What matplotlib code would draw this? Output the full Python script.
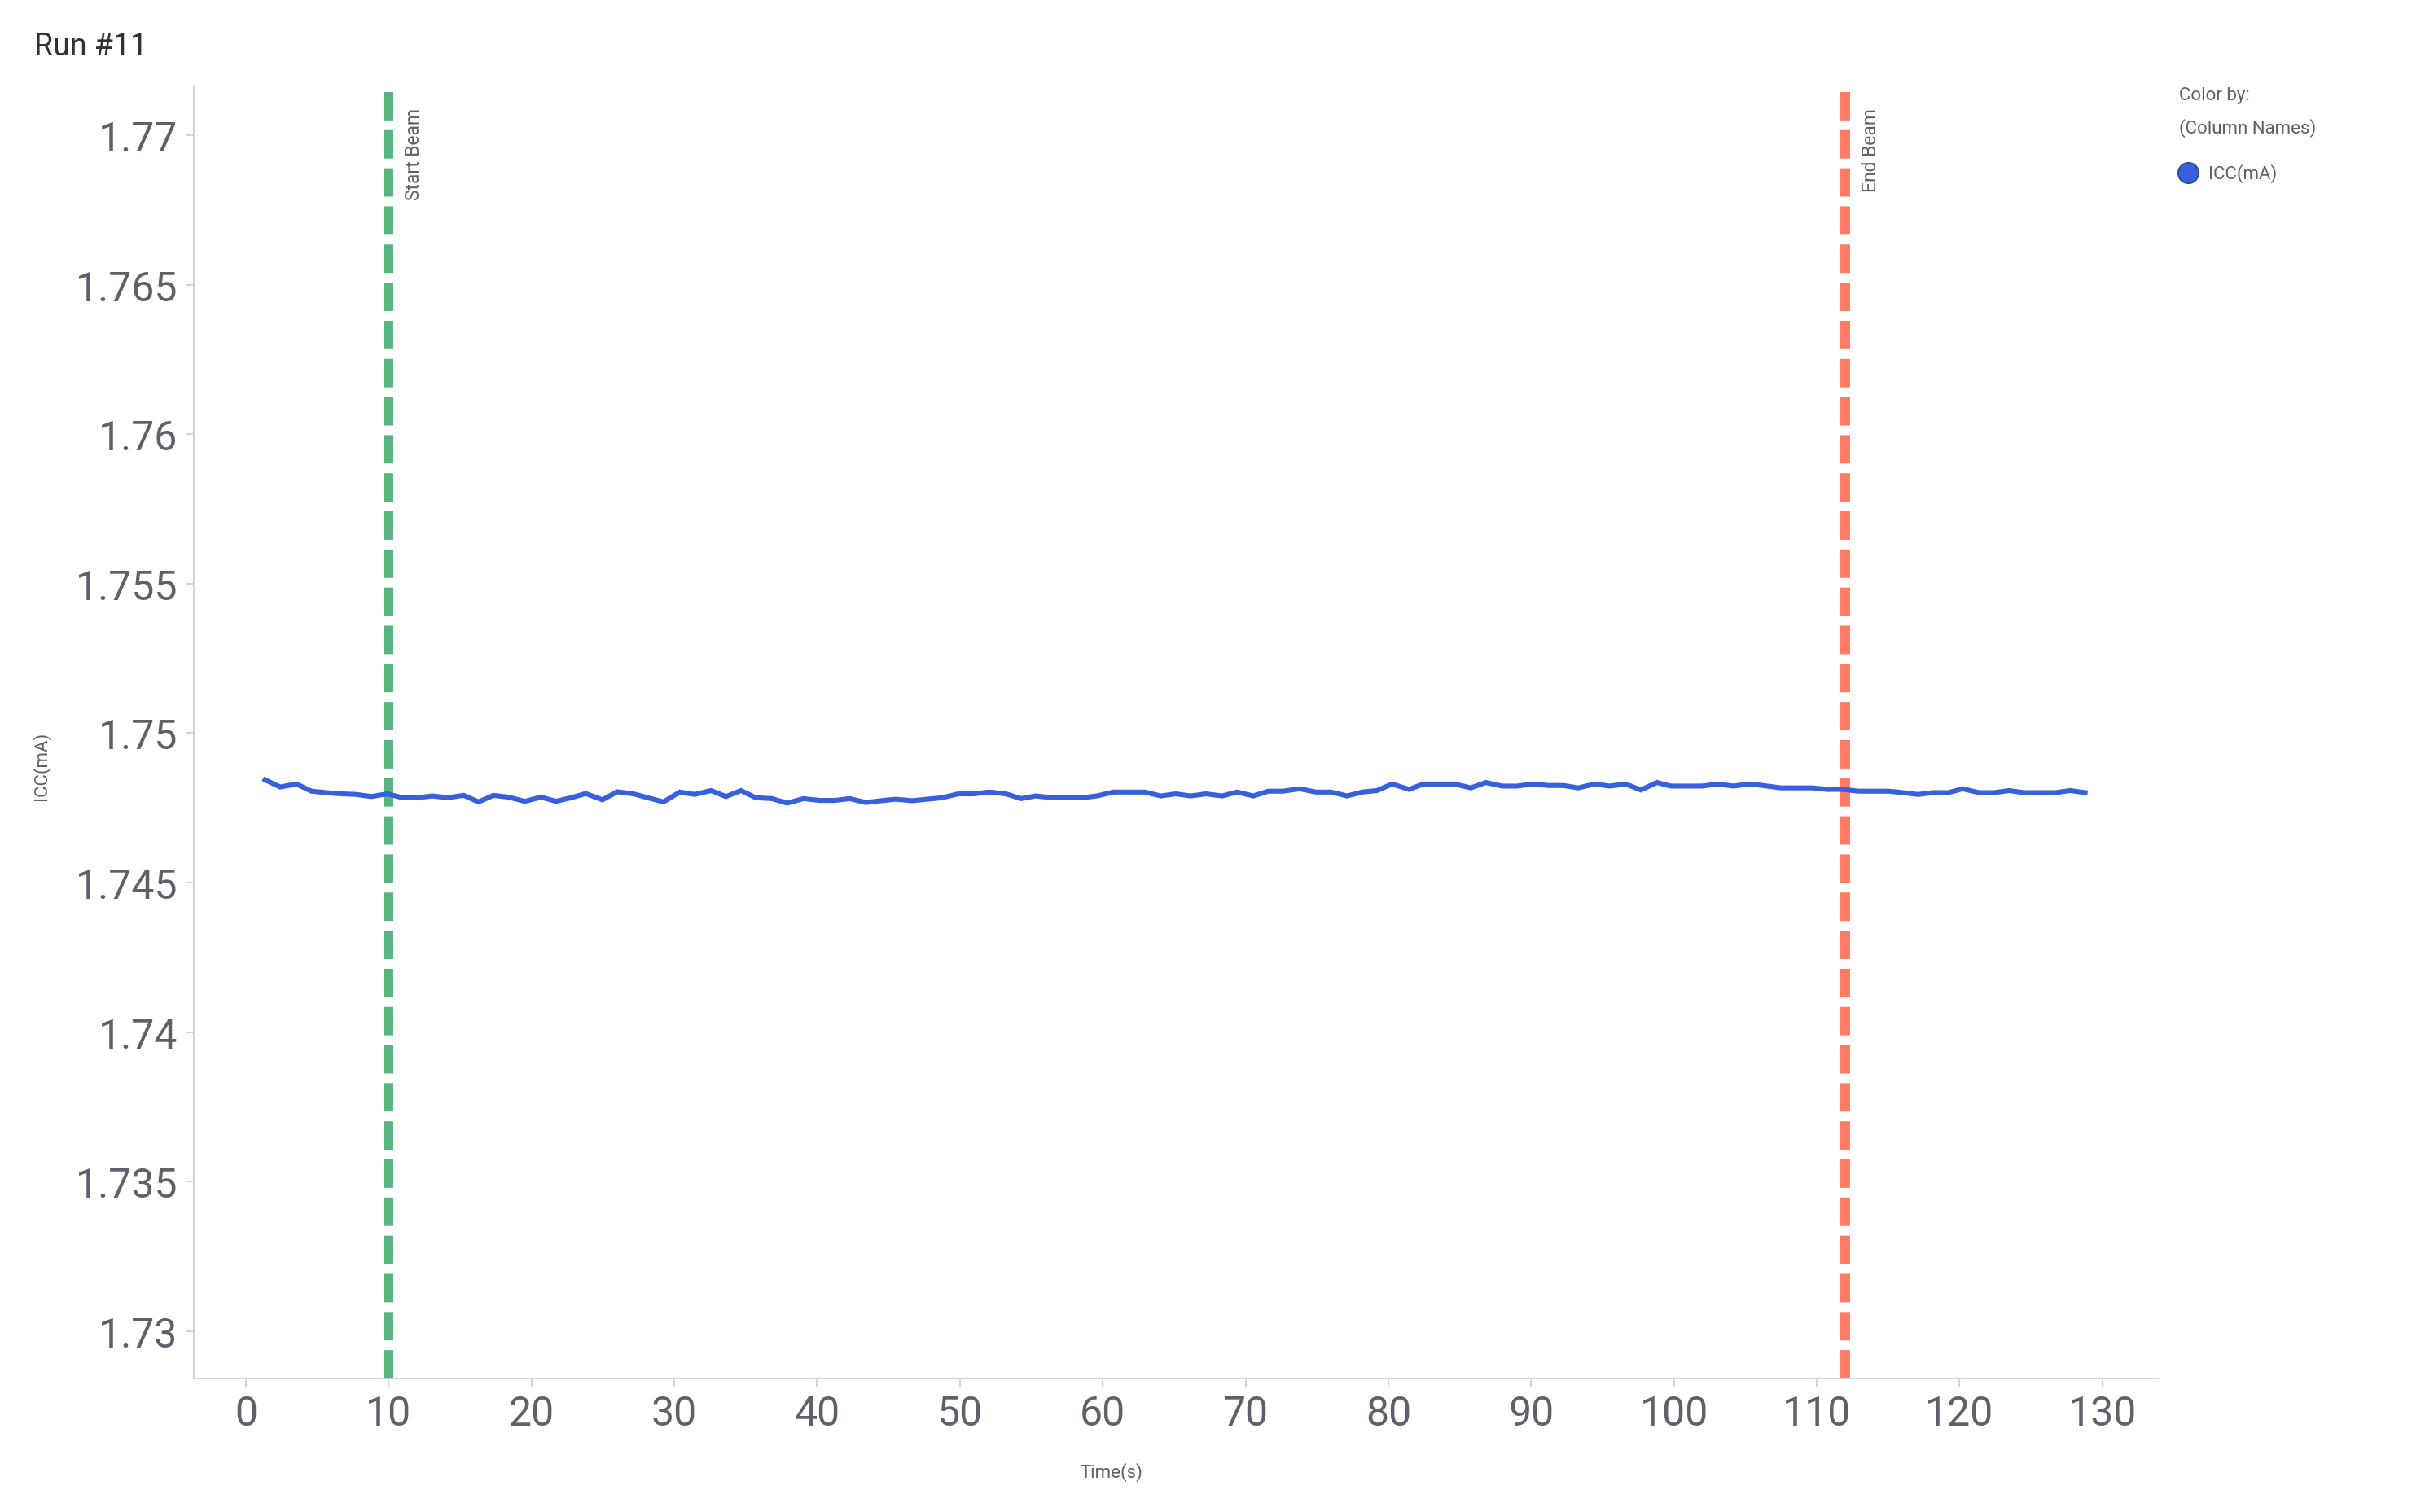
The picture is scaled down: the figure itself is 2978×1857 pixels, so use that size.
import numpy as np
import matplotlib
matplotlib.use("Agg")
import matplotlib.pyplot as plt
from matplotlib.ticker import FuncFormatter, MultipleLocator

plt.rcParams["font.family"] = ["Roboto", "DejaVu Sans"]

# ICC(mA) readings vs time (s)
time_s = [1.35, 2.40, 3.54, 4.59, 5.63, 6.68, 7.73, 8.78, 9.92, 10.96,
          12.01, 13.06, 14.11, 15.25, 16.29, 17.34, 18.39, 19.53, 20.67, 21.72,
          22.77, 23.81, 24.96, 26.00, 27.14, 29.24, 30.38, 31.43, 32.57, 33.62,
          34.67, 35.71, 36.85, 37.90, 39.04, 40.19, 41.23, 42.28, 43.42, 44.47,
          45.52, 46.66, 47.70, 48.75, 49.89, 50.94, 52.08, 53.23, 54.27, 55.32,
          56.46, 57.51, 58.56, 59.60, 60.75, 61.89, 62.94, 64.08, 65.12, 66.17,
          67.22, 68.36, 69.41, 70.55, 71.60, 72.64, 73.79, 74.93, 75.98, 77.12,
          78.17, 79.21, 80.26, 81.46, 82.45, 83.60, 84.64, 85.78, 86.83, 87.97,
          89.02, 90.06, 91.21, 92.25, 93.30, 94.44, 95.49, 96.63, 97.68, 98.82,
          99.77, 100.91, 101.96, 103.10, 104.15, 105.29, 106.05, 107.48, 108.53, 109.67,
          110.72, 111.76, 112.91, 113.95, 115.00, 116.05, 117.09, 118.14, 119.19, 120.23,
          121.37, 122.42, 123.47, 124.51, 125.65, 126.70, 127.75, 128.80]
icc_ma = [1.74844, 1.74820, 1.74830, 1.74806, 1.74801, 1.74797, 1.74795, 1.74788, 1.74797, 1.74784,
          1.74784, 1.74790, 1.74784, 1.74792, 1.74770, 1.74792, 1.74786, 1.74772, 1.74786, 1.74772,
          1.74784, 1.74798, 1.74777, 1.74804, 1.74797, 1.74770, 1.74803, 1.74795, 1.74808, 1.74788,
          1.74808, 1.74784, 1.74781, 1.74766, 1.74781, 1.74775, 1.74775, 1.74781, 1.74768, 1.74774,
          1.74779, 1.74774, 1.74779, 1.74784, 1.74797, 1.74797, 1.74803, 1.74797, 1.74781, 1.74790,
          1.74784, 1.74784, 1.74784, 1.74790, 1.74803, 1.74803, 1.74803, 1.74790, 1.74797, 1.74790,
          1.74797, 1.74790, 1.74803, 1.74790, 1.74806, 1.74806, 1.74814, 1.74803, 1.74803, 1.74790,
          1.74803, 1.74808, 1.74830, 1.74812, 1.74830, 1.74830, 1.74830, 1.74817, 1.74835, 1.74823,
          1.74823, 1.74830, 1.74825, 1.74825, 1.74817, 1.74830, 1.74823, 1.74830, 1.74810, 1.74835,
          1.74823, 1.74823, 1.74823, 1.74830, 1.74823, 1.74830, 1.74826, 1.74817, 1.74817, 1.74817,
          1.74812, 1.74812, 1.74806, 1.74806, 1.74806, 1.74801, 1.74795, 1.74801, 1.74801, 1.74814,
          1.74801, 1.74801, 1.74808, 1.74801, 1.74801, 1.74801, 1.74808, 1.74801]

beam_times = [10, 112]
beam_labels = ["Start Beam", "End Beam"]
beam_colors = ["#58b57f", "#fd7a65"]

x_ticks = list(range(0, 131, 10))
line_color = "#3860dd"
axis_grey = "#d3d5de"
text_grey = "#5f6168"

fig = plt.figure(figsize=(29.78, 18.58), dpi=100)
ax = fig.add_axes([0.0799, 0.0883, 0.810, 0.8536])

ax.plot(time_s, icc_ma, color=line_color, lw=4.4, solid_joinstyle="miter", zorder=3)

for t, lab, c in zip(beam_times, beam_labels, beam_colors):
    ax.axvline(t, color=c, lw=8.6, dashes=(2.92, 1.0), zorder=2)
    ax.annotate(lab, xy=(t, 1), xycoords=("data", "axes fraction"),
                xytext=(14, -18), textcoords="offset points",
                rotation=90, ha="left", va="top", fontsize=16.5, color=text_grey)

ax.set_xlim(-3.65, 133.9)
ax.set_ylim(1.72841, 1.77162)
ax.set_xticks(x_ticks)
ax.yaxis.set_major_locator(MultipleLocator(0.005))
ax.yaxis.set_major_formatter(FuncFormatter(lambda v, p: "{:g}".format(round(v, 4))))

for s in ["top", "right"]:
    ax.spines[s].set_visible(False)
for s in ["left", "bottom"]:
    ax.spines[s].set_color(axis_grey)
    ax.spines[s].set_linewidth(1.5)
ax.tick_params(axis="both", colors=axis_grey, length=7, width=1.5, labelsize=36,
               labelcolor=text_grey)
ax.tick_params(axis="y", pad=7)
ax.tick_params(axis="x", pad=7)

fig.text(0.014, 0.969, "Run #11", fontsize=27, color="#333333", fontweight="normal",
         ha="left", va="center")
fig.text(0.4584, 0.0264, "Time(s)", fontsize=16, color=text_grey, ha="center", va="center")
fig.text(0.0171, 0.4935, "ICC(mA)", fontsize=16, color=text_grey, ha="center", va="center",
         rotation=90)

# legend block on the right
fig.text(0.8985, 0.9365, "Color by:", fontsize=16, color=text_grey, ha="left", va="center")
fig.text(0.8985, 0.9150, "(Column Names)", fontsize=16, color=text_grey, ha="left", va="center")
fig.lines.append(plt.Line2D([0.9022], [0.8853], transform=fig.transFigure, marker="o",
                            markersize=18, markerfacecolor=line_color,
                            markeredgecolor="#2b47ad", markeredgewidth=1.5, linestyle="none"))
fig.text(0.9106, 0.8853, "ICC(mA)", fontsize=16, color=text_grey, ha="left", va="center")

fig.savefig("out.png", dpi=100, facecolor="white")
